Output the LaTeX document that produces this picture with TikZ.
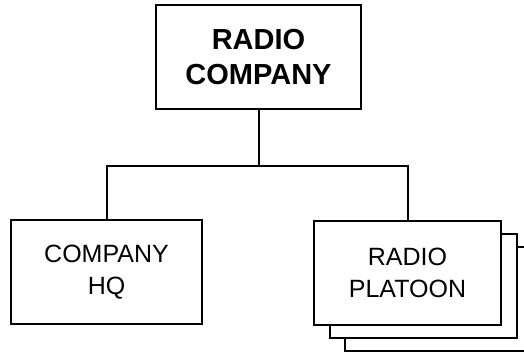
\documentclass[tikz,border=0pt]{standalone}
\usepackage{fontspec}
\setmainfont{Liberation Sans}
\begin{document}
\begin{tikzpicture}[x=1pt,y=-1pt,
  box/.style={draw=black,line width=2pt,fill=white,inner sep=0pt,align=center},
  link/.style={draw=black,line width=2pt}]
\clip (0,0) rectangle (524,353);
% top
\node[box,minimum width=205pt,minimum height=104pt,
  font=\fontsize{29}{35}\selectfont\bfseries] (co) at (258.5,57) {RADIO\\COMPANY};
% left
\node[box,minimum width=191pt,minimum height=104pt,
  font=\fontsize{25}{31.3}\selectfont] (hq) at (106.5,272) {COMPANY\\HQ};
% right stack
\node[box,minimum width=187pt,minimum height=104pt] (pl3) at (438.5,298.5) {};
\node[box,minimum width=187pt,minimum height=104pt] (pl2) at (423,285.5) {};
\node[box,minimum width=187pt,minimum height=104pt,
  font=\fontsize{25}{32}\selectfont] (pl) at (407.5,273) {RADIO\\PLATOON};
% connectors
\coordinate (busL) at (106.5,166);
\coordinate (busR) at (407.5,166);
\draw[link] (co.south) -- (co.south |- busL);
\draw[link] (hq.north) -- (busL) -- (busR) -- (pl.north);
\end{tikzpicture}
\end{document}
